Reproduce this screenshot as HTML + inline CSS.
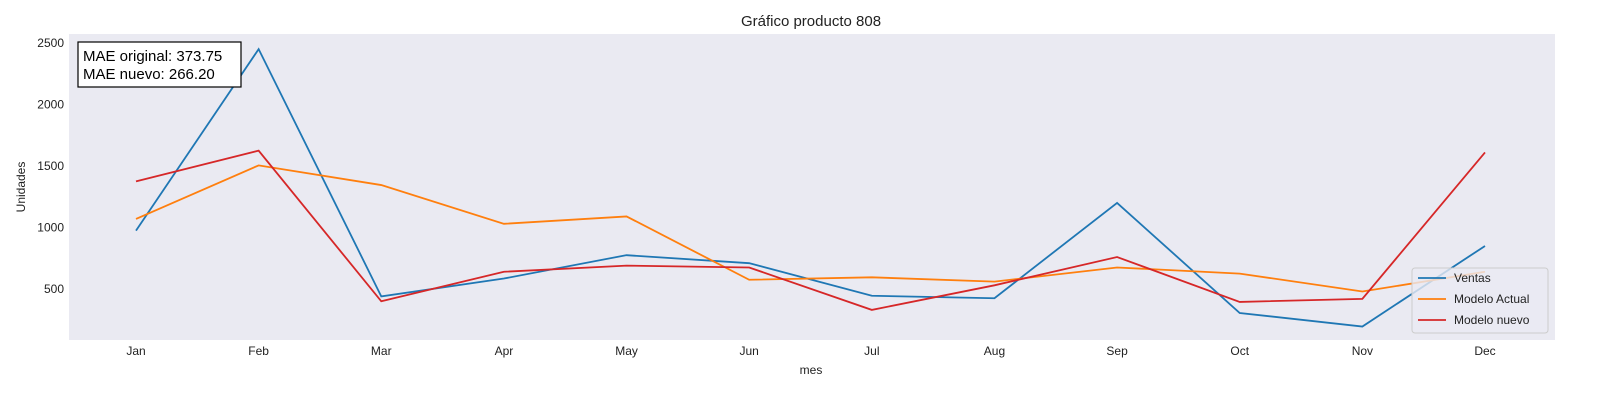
<!DOCTYPE html>
<html><head><meta charset="utf-8"><style>
html,body{margin:0;padding:0;background:#fff;overflow:hidden;width:1600px;height:400px}
svg{display:block}
svg text{font-family:"Liberation Sans",Arial,sans-serif}
</style></head><body>
<svg width="1600" height="400" id="chart">
<text x="811" y="26" font-size="15" text-anchor="middle" fill="#222">Gráfico producto 808</text>
<rect x="69" y="34" width="1486" height="306" fill="#eaeaf2"/>
<g id="yt"></g><g id="xt"></g><g id="lines"></g>
<text x="811" y="374" font-size="12" text-anchor="middle" fill="#222">mes</text>
<text transform="translate(25,187) rotate(-90)" font-size="12" text-anchor="middle" fill="#222">Unidades</text>
<g>
<rect x="78" y="42" width="163" height="45" fill="#fff" stroke="#000" stroke-width="1.2"/>
<text x="83" y="61" font-size="15" fill="#000">MAE original: 373.75</text>
<text x="83" y="79" font-size="15" fill="#000">MAE nuevo: 266.20</text>
</g>
<g id="legend">
<rect x="1412" y="268" width="136" height="65" rx="3" fill="#eaeaf2" fill-opacity="0.8" stroke="#ccc"/>
</g>
</svg>
<script>
const months=["Jan","Feb","Mar","Apr","May","Jun","Jul","Aug","Sep","Oct","Nov","Dec"];
const ventas=[975,2450,440,585,775,710,445,425,1200,305,195,850];
const actual=[1070,1505,1345,1030,1090,575,595,560,675,625,480,640];
const nuevo=[1375,1625,400,640,690,675,330,530,760,395,420,1610];
const yTicks=[500,1000,1500,2000,2500];
const seriesNames=["Ventas","Modelo Actual","Modelo nuevo"];
const colors=["#1f77b4","#ff7f0e","#d62728"];
const ns="http://www.w3.org/2000/svg";
const X=i=>136+i*(1485-136)/11;
const Y=v=>43+(2500-v)*0.123;
const yt=document.getElementById('yt'),xt=document.getElementById('xt'),lg=document.getElementById('lines'),leg=document.getElementById('legend');
yTicks.forEach(v=>{const t=document.createElementNS(ns,'text');


t.setAttribute('x',64);t.setAttribute('y',Y(v)+4);t.setAttribute('font-size','12');t.setAttribute('text-anchor','end');t.setAttribute('fill','#222');t.textContent=v;yt.appendChild(t);});
months.forEach((m,i)=>{const t=document.createElementNS(ns,'text');


t.setAttribute('x',X(i));t.setAttribute('y',355);t.setAttribute('font-size','12');t.setAttribute('text-anchor','middle');t.setAttribute('fill','#222');t.textContent=m;xt.appendChild(t);});
[ventas,actual,nuevo].forEach((s,k)=>{const p=document.createElementNS(ns,'polyline');


p.setAttribute('points',s.map((v,i)=>X(i)+','+Y(v)).join(' '));p.setAttribute('fill','none');p.setAttribute('stroke',colors[k]);p.setAttribute('stroke-width','1.8');lg.appendChild(p);
const l=document.createElementNS(ns,'line');


const yy=278+k*21;l.setAttribute('x1',1418);l.setAttribute('x2',1446);l.setAttribute('y1',yy);l.setAttribute('y2',yy);l.setAttribute('stroke',colors[k]);l.setAttribute('stroke-width','1.8');leg.appendChild(l);
const t=document.createElementNS(ns,'text');


t.setAttribute('x',1454);t.setAttribute('y',yy+4);t.setAttribute('font-size','12');t.setAttribute('fill','#222');t.textContent=seriesNames[k];leg.appendChild(t);});
</script>
</body></html>
